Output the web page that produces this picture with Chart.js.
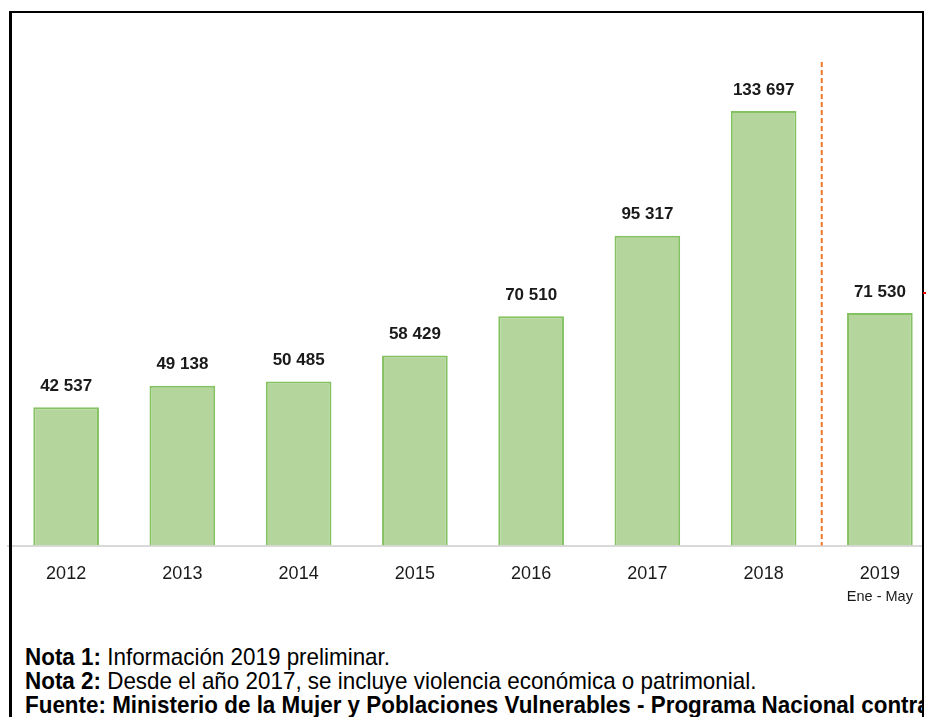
<!DOCTYPE html>
<html><head><meta charset="utf-8">
<script src="https://cdn.jsdelivr.net/npm/chart.js@4"></script>
<style>
html,body{margin:0;padding:0;background:#fff;overflow:hidden;width:927px;height:717px}
#clip{position:absolute;left:0;top:0;width:922px;height:717px;overflow:hidden}
#cbox{position:absolute;left:0;top:0;width:950px;height:620px}
#frame{position:absolute;left:9px;top:11px;width:915px;height:800px;border:3px solid #000;border-right-width:2px;border-top-width:2px;box-sizing:border-box}
#notes{position:absolute;left:25px;top:645px;font-family:"Liberation Sans",Arial,sans-serif;font-size:24px;line-height:24px;white-space:nowrap;color:#000;transform:scaleX(0.934);transform-origin:0 0}
#notes b{font-weight:bold}
#dot{position:absolute;left:923px;top:292px;width:3px;height:2px;background:#e00}
</style></head>
<body>
<div id="clip">
  <div id="cbox"><canvas id="c"></canvas></div>
  <div id="notes">
    <div><b>Nota 1:</b> Información 2019 preliminar.</div>
    <div><b>Nota 2:</b> Desde el año 2017, se incluye violencia económica o patrimonial.</div>
    <div><b>Fuente: Ministerio de la Mujer y Poblaciones Vulnerables - Programa Nacional contra la Violencia Familiar y Sexual</b></div>
  </div>
</div>
<div id="frame"></div>
<div id="dot"></div>
<script>
const categories = ['2012','2013','2014','2015','2016','2017','2018','2019'];
const subLabels = ['','','','','','','','Ene - May'];
const values = [42537, 49138, 50485, 58429, 70510, 95317, 133697, 71530];
const yMax = 150000;

function fmt(v){ return String(v).replace(/\B(?=(\d{3})+(?!\d))/g,' '); }

const deco = {
  id:'deco',
  afterDatasetsDraw(chart){
    const ctx = chart.ctx, xs = chart.scales.x, ys = chart.scales.y;
    const meta = chart.getDatasetMeta(0);
    ctx.save();
    ctx.font = 'bold 17px "Liberation Sans", Arial, sans-serif';
    ctx.fillStyle = '#1a1a1a';
    ctx.textAlign = 'center';
    ctx.textBaseline = 'middle';
    meta.data.forEach((bar,i)=>{ ctx.fillText(fmt(values[i]), bar.x, bar.y - 21); });
    const xm = (xs.getPixelForValue(6) + xs.getPixelForValue(7)) / 2;
    ctx.strokeStyle = '#f07b2a';
    ctx.lineWidth = 2;
    ctx.setLineDash([5,3]);
    ctx.beginPath();
    ctx.moveTo(xm, ys.getPixelForValue(yMax) + 4);
    ctx.lineTo(xm, ys.bottom);
    ctx.stroke();
    ctx.setLineDash([]);
    ctx.font = '14.5px "Liberation Sans", Arial, sans-serif';
    subLabels.forEach((s,i)=>{ if(s) ctx.fillText(s, xs.getPixelForValue(i), xs.top + 51); });
    ctx.restore();
  }
};

new Chart(document.getElementById('c'), {
  type:'bar',
  data:{
    labels: categories,
    datasets:[{
      data: values,
      backgroundColor:'#b4d69c',
      borderColor:'#84c160',
      borderWidth:2,
      categoryPercentage:1,
      barPercentage:0.565
    }]
  },
  options:{
    responsive:true,
    maintainAspectRatio:false,
    animation:false,
    layout:{padding:{left:8,right:12,top:58,bottom:0}},
    plugins:{legend:{display:false},tooltip:{enabled:false}},
    scales:{
      x:{
        grid:{display:false,drawTicks:false},
        border:{display:true,color:'#d9d9d9',width:2},
        ticks:{padding:18,color:'#1a1a1a',font:{family:'"Liberation Sans", Arial, sans-serif',size:18}},
        afterFit(s){ s.height = 74.5; }
      },
      y:{display:false,min:0,max:yMax}
    }
  },
  plugins:[deco]
});
</script>
</body></html>
